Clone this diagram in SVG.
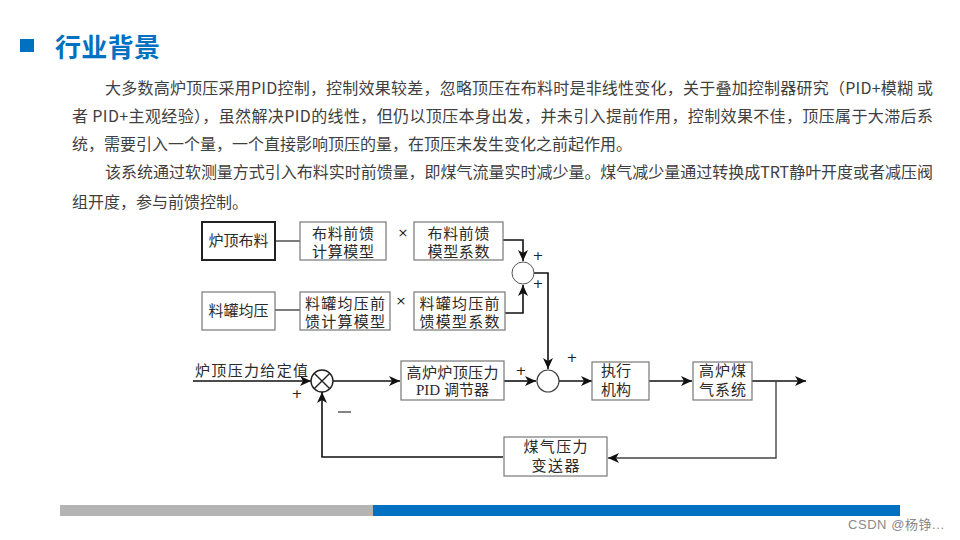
<svg xmlns="http://www.w3.org/2000/svg" width="960" height="540" viewBox="0 0 960 540">
<style>
.p{font-family:"Noto Sans CJK SC","Liberation Sans",sans-serif;font-size:16px;fill:#404040}
.t{font-family:"Liberation Serif","Noto Sans CJK SC",serif;font-size:15px;fill:#2a2a2a;text-anchor:middle}
.box{fill:#fff;stroke:#777;stroke-width:1.2}
.ln{fill:none;stroke:#111;stroke-width:1.6}
.ln2{fill:none;stroke:#444;stroke-width:1.4}
.sig{font-family:"DejaVu Sans",sans-serif;font-size:13px;fill:#222;text-anchor:middle}
</style>
<defs>
<marker id="ar" markerUnits="userSpaceOnUse" markerWidth="12" markerHeight="10" refX="11" refY="5" orient="auto">
<path d="M0,0 L11,5 L0,10 L3,5 Z" fill="#111"/>
</marker>
</defs>
<rect width="960" height="540" fill="#fff"/>
<g id="title">
<rect x="20" y="39" width="14" height="13" fill="#0070C0"/>
<text x="55" y="57" font-family="'Noto Sans CJK SC',sans-serif" font-size="26" font-weight="bold" fill="#0070C0" textLength="105">行业背景</text>
</g>
<g id="paragraph">
<text class="p" x="105" y="94" textLength="828" lengthAdjust="spacing">大多数高炉顶压采用PID控制，控制效果较差，忽略顶压在布料时是非线性变化，关于叠加控制器研究（PID+模糊 或</text>
<text class="p" x="72" y="122" textLength="861" lengthAdjust="spacing">者 PID+主观经验），虽然解决PID的线性，但仍以顶压本身出发，并未引入提前作用，控制效果不佳，顶压属于大滞后系</text>
<text class="p" x="72" y="150">统，需要引入一个量，一个直接影响顶压的量，在顶压未发生变化之前起作用。</text>
<text class="p" x="105" y="178" textLength="828" lengthAdjust="spacing">该系统通过软测量方式引入布料实时前馈量，即煤气流量实时减少量。煤气减少量通过转换成TRT静叶开度或者减压阀</text>
<text class="p" x="72" y="208">组开度，参与前馈控制。</text>
</g>
<g id="connectors">
<path class="ln2" d="M275,241 H300"/>
<path class="ln2" d="M275,310 H300"/>
<path class="ln" d="M503,240 H523 V261" marker-end="url(#ar)"/>
<path class="ln" d="M505,313 H523 V285" marker-end="url(#ar)"/>
<path class="ln" d="M534,273 H548 V369" marker-end="url(#ar)"/>
<path class="ln" d="M193,381 H311" marker-end="url(#ar)"/>
<path class="ln" d="M333,381 H400" marker-end="url(#ar)"/>
<path class="ln" d="M504,381 H536" marker-end="url(#ar)"/>
<path class="ln" d="M559,381 H592" marker-end="url(#ar)"/>
<path class="ln" d="M649,381 H692" marker-end="url(#ar)"/>
<path class="ln" d="M752,381 H806" marker-end="url(#ar)"/>
<path class="ln2" d="M776,381 V458 H608" marker-end="url(#ar)"/>
<path class="ln" d="M503,457 H322 V392" marker-end="url(#ar)"/>
</g>
<g id="n_ludingbuliao">
<rect x="202" y="222" width="73" height="38" fill="#fff" stroke="#222" stroke-width="2"/>
<text class="t" x="238.5" y="246">炉顶布料</text>
</g>
<g id="n_buliao_model">
<rect class="box" x="300" y="222" width="86" height="38"/>
<text class="t" x="343" y="239" textLength="62">布料前馈</text>
<text class="t" x="343" y="257" textLength="62">计算模型</text>
</g>
<g id="n_buliao_coef">
<rect class="box" x="414" y="222" width="89" height="38"/>
<text class="t" x="458.5" y="239" textLength="62">布料前馈</text>
<text class="t" x="458.5" y="257" textLength="62">模型系数</text>
</g>
<g id="n_liaoguan">
<rect class="box" x="202" y="292" width="73" height="38"/>
<text class="t" x="238.5" y="316">料罐均压</text>
</g>
<g id="n_liaoguan_model">
<rect class="box" x="300" y="292" width="90" height="38"/>
<text class="t" x="345" y="309" textLength="80">料罐均压前</text>
<text class="t" x="345" y="327" textLength="80">馈计算模型</text>
</g>
<g id="n_liaoguan_coef">
<rect class="box" x="414" y="292" width="91" height="38"/>
<text class="t" x="459.5" y="309" textLength="80">料罐均压前</text>
<text class="t" x="459.5" y="327" textLength="80">馈模型系数</text>
</g>
<g id="n_sum1">
<circle cx="523" cy="273" r="11" fill="#fff" stroke="#555" stroke-width="1"/>
</g>
<g id="n_sum2">
<circle cx="548" cy="381" r="11" fill="#fff" stroke="#444" stroke-width="1.2"/>
</g>
<g id="n_compare">
<circle cx="322" cy="381" r="11" fill="#fff" stroke="#222" stroke-width="1.4"/>
<path d="M314.2,373.2 L329.8,388.8 M329.8,373.2 L314.2,388.8" stroke="#222" stroke-width="1.4"/>
</g>
<g id="n_pid">
<rect class="box" x="401" y="361" width="103" height="39"/>
<text class="t" x="452.5" y="378" textLength="92">高炉炉顶压力</text>
<text class="t" x="452.5" y="395">PID 调节器</text>
</g>
<g id="n_zhixing">
<rect class="box" x="592" y="362" width="57" height="38"/>
<text class="t" x="616" y="376" textLength="30">执行</text>
<text class="t" x="616" y="395" textLength="30">机构</text>
</g>
<g id="n_meiqi">
<rect class="box" x="693" y="362" width="59" height="38"/>
<text class="t" x="722.5" y="376" textLength="47">高炉煤</text>
<text class="t" x="722.5" y="395" textLength="47">气系统</text>
</g>
<g id="n_biansongqi">
<rect class="box" x="504" y="437" width="103" height="39"/>
<text class="t" x="555.5" y="452" textLength="64">煤气压力</text>
<text class="t" x="555.5" y="471" textLength="48">变送器</text>
</g>
<g id="labels">
<text x="195" y="376" font-family="'Liberation Serif','Noto Sans CJK SC',serif" font-size="15" fill="#2a2a2a" textLength="113">炉顶压力给定值</text>
<text class="sig" x="403" y="237" font-size="14">×</text>
<text class="sig" x="401" y="305" font-size="14">×</text>
<text class="sig" x="538" y="260">+</text>
<text class="sig" x="538" y="288">+</text>
<text class="sig" x="297" y="398">+</text>
<text class="sig" x="521" y="375">+</text>
<text class="sig" x="572" y="362">+</text>
<path d="M338,412 H351" stroke="#333" stroke-width="1.2"/>
</g>
<g id="footer">
<rect x="60" y="505" width="313" height="11" fill="#B4B4B4"/>
<rect x="373" y="505" width="527" height="11" fill="#0070C0"/>
<text x="848" y="529" font-family="'Liberation Sans','Noto Sans CJK SC',sans-serif" font-size="13" fill="#8a8a8a" textLength="96">CSDN @杨铮...</text>
</g>
</svg>
